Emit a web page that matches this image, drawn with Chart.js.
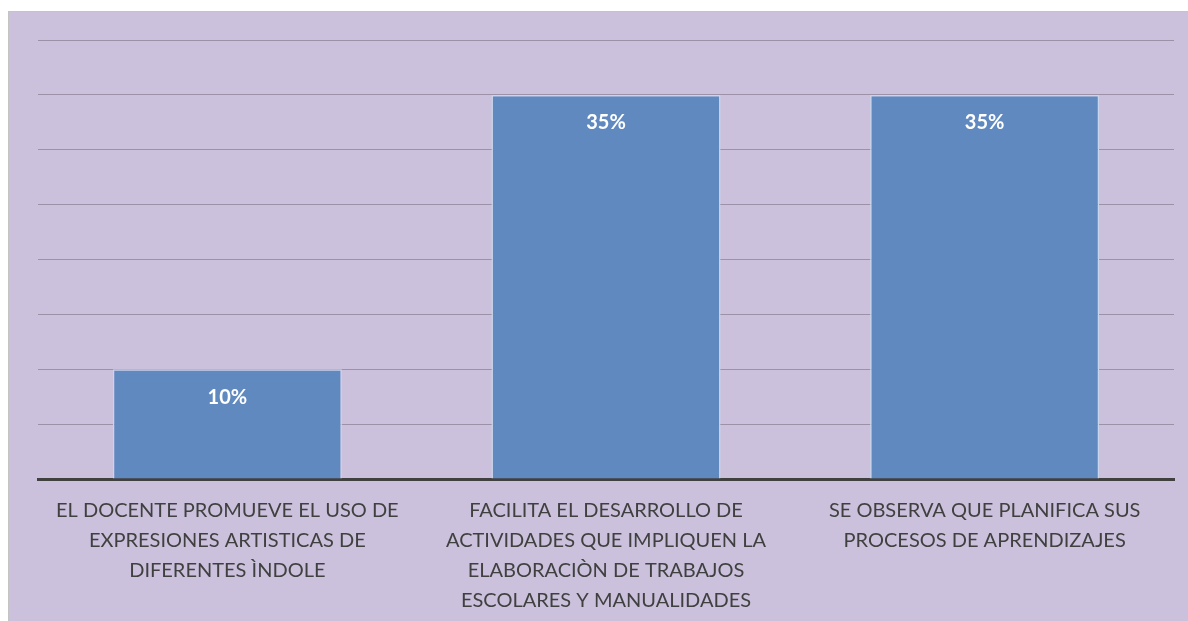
<!DOCTYPE html>
<html>
<head>
<meta charset="utf-8">
<script src="https://cdn.jsdelivr.net/npm/chart.js@4"></script>
<style>
  body { margin: 0; background: #fff; }
  #box {
    position: absolute; left: 8px; top: 11px; width: 1180px; height: 610px;
    background: #cbc1dc; border-left: 1px solid #c4c4c4; border-top: 1px solid #c4c4c4;
    box-sizing: border-box;
  }
  #wrap { position: absolute; left: 0; top: 0; width: 1179px; height: 609px; }
</style>
</head>
<body>
<div id="box"><div id="wrap"><canvas id="grafico"></canvas></div></div>
<script>
const categorias = [
  ['EL DOCENTE PROMUEVE EL USO DE', 'EXPRESIONES ARTISTICAS DE', 'DIFERENTES ÌNDOLE'],
  ['FACILITA EL DESARROLLO DE', 'ACTIVIDADES QUE IMPLIQUEN LA', 'ELABORACIÒN DE TRABAJOS', 'ESCOLARES Y MANUALIDADES'],
  ['SE OBSERVA QUE PLANIFICA SUS', 'PROCESOS DE APRENDIZAJES']
];
const valores = [10, 35, 35];

const etiquetasBarras = {
  id: 'etiquetasBarras',
  afterDatasetsDraw(chart) {
    const ctx = chart.ctx;
    ctx.save();
    ctx.font = 'bold 20px Lato, "Open Sans", sans-serif';
    ctx.fillStyle = '#ffffff';
    ctx.textAlign = 'center';
    ctx.textBaseline = 'middle';
    chart.getDatasetMeta(0).data.forEach((bar, i) => {
      ctx.fillText(valores[i] + '%', bar.x, bar.y + 28);
    });
    ctx.restore();
  }
};

const ctx = document.getElementById('grafico').getContext('2d');
new Chart(ctx, {
  type: 'bar',
  data: {
    labels: categorias,
    datasets: [{
      data: valores,
      backgroundColor: '#6089c0',
      borderColor: '#c9d5ea',
      borderWidth: 1.5,
      categoryPercentage: 0.605,
      barPercentage: 1
    }]
  },
  options: {
    responsive: true,
    maintainAspectRatio: false,
    animation: false,
    layout: { padding: { left: 29, right: 14, top: 28, bottom: 0 } },
    plugins: { legend: { display: false }, tooltip: { enabled: false } },
    scales: {
      x: {
        grid: { display: false },
        border: { color: '#404040', width: 3 },
        afterFit: (scale) => { scale.height = 142; },
        ticks: {
          color: '#404040',
          padding: 9,
          maxRotation: 0,
          autoSkip: false,
          font: { family: 'Lato, "Open Sans", sans-serif', size: 20, lineHeight: 1.5 }
        }
      },
      y: {
        min: 0,
        max: 40,
        ticks: { display: false, stepSize: 5 },
        border: { display: false },
        grid: { color: '#9d91a8', lineWidth: 1, drawTicks: false }
      }
    }
  },
  plugins: [etiquetasBarras]
});
</script>
</body>
</html>
